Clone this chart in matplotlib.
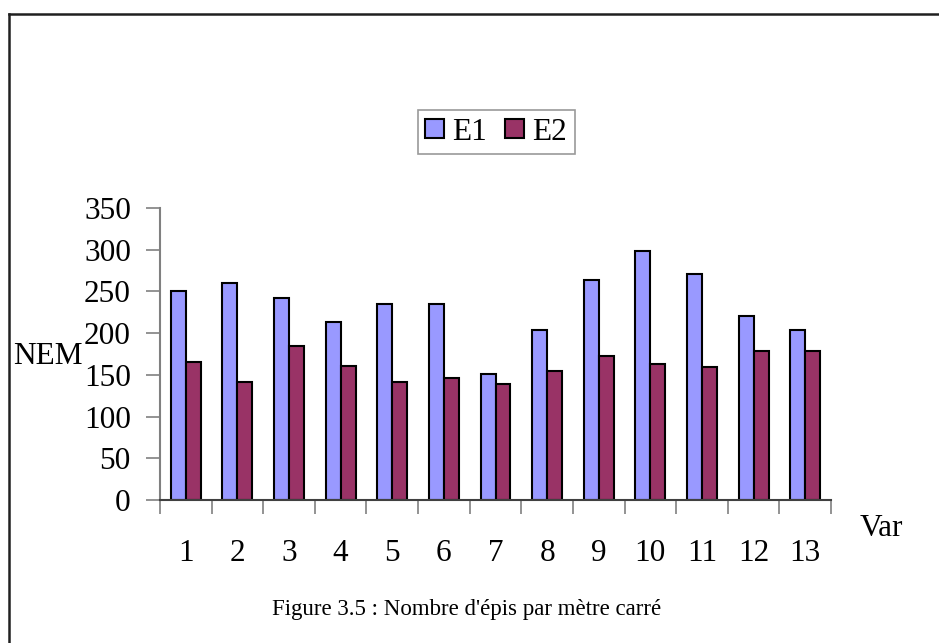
import matplotlib
matplotlib.use("Agg")
import matplotlib.pyplot as plt
from matplotlib.lines import Line2D
import numpy as np

plt.rcParams['font.family'] = ['Liberation Serif', 'DejaVu Serif']

categories = ['1', '2', '3', '4', '5', '6', '7', '8', '9', '10', '11', '12', '13']
e1 = [250, 260, 242, 213, 235, 235, 151, 204, 264, 298, 271, 221, 204]
e2 = [165, 141, 185, 161, 141, 146, 139, 155, 173, 163, 159, 178, 178]
yticks = [0, 50, 100, 150, 200, 250, 300, 350]

W, H = 939, 643
FS = 22.5
fig = plt.figure(figsize=(W / 100, H / 100), dpi=100)
fig.patch.set_facecolor('white')

ax = fig.add_axes([160 / W, 1 - 500 / H, (831 - 160) / W, (500 - 208) / H])
x = np.arange(len(categories))
bw = 0.29
ax.bar(x - bw / 2, e1, width=bw, color='#9999FF', edgecolor='black', linewidth=1.5, label='E1')
ax.bar(x + bw / 2, e2, width=bw, color='#993366', edgecolor='black', linewidth=1.5, label='E2')

ax.set_xlim(-0.5, len(categories) - 0.5)
ax.set_ylim(0, 350)
ax.set_yticks(yticks)
ax.set_yticklabels([str(v) for v in yticks], fontsize=FS)
ax.set_xticks(np.arange(len(categories) + 1) - 0.5)
ax.set_xticklabels([])
ax.set_xticks(x, minor=True)
ax.set_xticklabels(categories, minor=True, fontsize=FS)
ax.tick_params(axis='x', which='minor', length=0, pad=28)
ax.tick_params(axis='x', which='major', length=10, width=1.2, color='#808080', direction='out')
ax.tick_params(axis='y', length=10, width=1.2, color='#808080', direction='out', pad=11)
for s in ['top', 'right']:
    ax.spines[s].set_visible(False)
for s in ['left', 'bottom']:
    ax.spines[s].set_color('#808080')
    ax.spines[s].set_linewidth(1.5)
ax.spines['bottom'].set_color('#404040')

leg = fig.legend(loc='center', bbox_to_anchor=(496 / W, 1 - 132 / H), ncol=2,
                 fontsize=FS, frameon=True, fancybox=False, handlelength=0.6,
                 handleheight=0.6, handletextpad=0.25, columnspacing=0.6,
                 borderpad=0.25)
leg.get_frame().set_edgecolor('#808080')
leg.get_frame().set_linewidth(1.2)

fig.text(83 / W, 1 - 356 / H, 'NEM', fontsize=FS, ha='right', va='center')
fig.text(881 / W, 1 - 528 / H, 'Var', fontsize=FS, ha='center', va='center')
fig.text(467 / W, 1 - 610 / H, "Figure 3.5 : Nombre d'épis par mètre carré",
         fontsize=16.5, ha='center', va='center')

# outer frame (left and top edges visible)
fig.add_artist(Line2D([8.5 / W, 8.5 / W], [0, 1 - 14 / H], transform=fig.transFigure,
                      color='#202020', linewidth=1.8))
fig.add_artist(Line2D([8.5 / W, 1], [1 - 14 / H, 1 - 14 / H], transform=fig.transFigure,
                      color='#202020', linewidth=1.8))

fig.savefig('out.png', dpi=100, facecolor='white')
